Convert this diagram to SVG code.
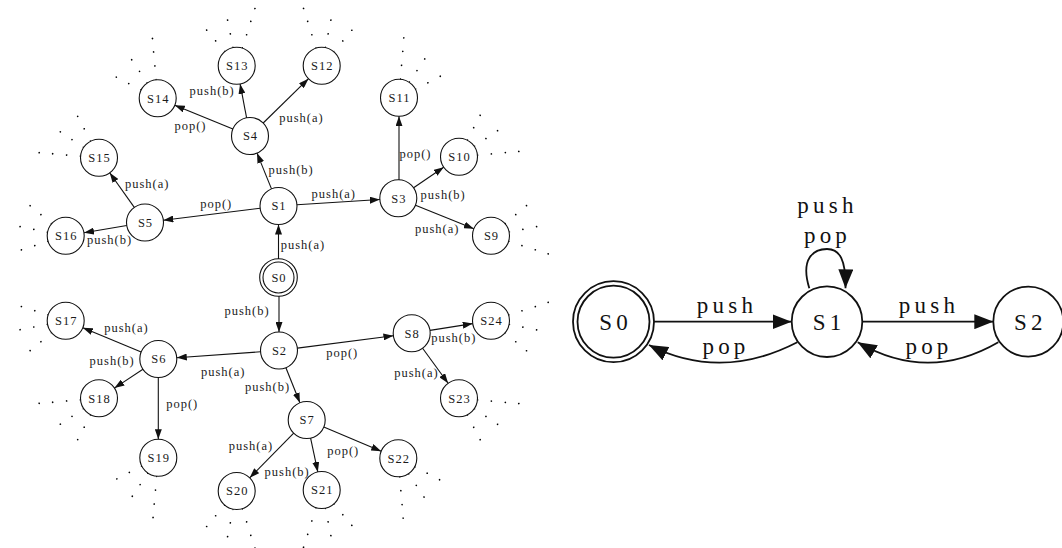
<svg xmlns="http://www.w3.org/2000/svg" xmlns:xlink="http://www.w3.org/1999/xlink" width="1062" height="548" viewBox="0 0 1062 548">
<style>
.n circle{fill:none;stroke:#111;stroke-width:1.1}
.t{font-family:"Liberation Serif","Times New Roman",serif;font-size:12.5px;letter-spacing:1px;fill:#1a1a1a;text-anchor:middle}
.e{stroke:#111;stroke-width:1.1;fill:none;marker-end:url(#a)}
.N circle{fill:none;stroke:#111;stroke-width:1.8}
.T{font-family:"Liberation Serif","Times New Roman",serif;font-size:23px;letter-spacing:4.2px;fill:#111;text-anchor:middle}
.E{stroke:#111;stroke-width:1.8;fill:none;marker-end:url(#A)}
.d circle{fill:#333}
</style>
<defs>
<marker id="a" markerUnits="userSpaceOnUse" viewBox="0 0 10 7" markerWidth="10" markerHeight="7" refX="10" refY="3.5" orient="auto"><path d="M0,0L10,3.5L0,7z" fill="#111"/></marker>
<marker id="A" markerUnits="userSpaceOnUse" viewBox="0 0 19 15" markerWidth="19" markerHeight="15" refX="19" refY="7.5" orient="auto"><path d="M0,0L19,7.5L0,15z" fill="#111"/></marker>
<g id="fc">
<circle cx="19" cy="0" r="0.6"/><circle cx="16.6" cy="9.2" r="0.6"/><circle cx="16.6" cy="-9.2" r="0.6"/>
<circle cx="32.5" cy="0" r="0.85"/><circle cx="46.5" cy="0" r="0.85"/>
<circle cx="28.4" cy="15.8" r="0.85"/><circle cx="40.7" cy="22.5" r="0.85"/>
<circle cx="28.4" cy="-15.8" r="0.85"/><circle cx="40.7" cy="-22.5" r="0.85"/>
</g>
<g id="fa"><use xlink:href="#fc"/><circle cx="52.5" cy="29.1" r="0.85"/></g>
<g id="fb"><use xlink:href="#fc"/><circle cx="52.5" cy="-29.1" r="0.85"/></g>
</defs>
<rect width="1062" height="548" fill="#fff"/>

<g id="continuations" class="d">
<use xlink:href="#fa" transform="translate(491,235.7) rotate(-11.3)"/>
<use xlink:href="#fa" transform="translate(459,156.7) rotate(-34)"/>
<use xlink:href="#fb" transform="translate(399,97.7) rotate(-56.4)"/>
<use xlink:href="#fb" transform="translate(321.7,65.7) rotate(-78.6)"/>
<use xlink:href="#fa" transform="translate(236.7,65.7) rotate(-101.3)"/>
<use xlink:href="#fa" transform="translate(157.7,98.3) rotate(-124)"/>
<use xlink:href="#fb" transform="translate(99,157.7) rotate(-146.2)"/>
<use xlink:href="#fc" transform="translate(65.7,235.7) rotate(-168.8)"/>
<use xlink:href="#fb" transform="translate(491,320.7) rotate(11.3)"/>
<use xlink:href="#fb" transform="translate(459,398.3) rotate(34)"/>
<use xlink:href="#fa" transform="translate(398.3,458.3) rotate(56.4)"/>
<use xlink:href="#fa" transform="translate(321.7,490) rotate(78.6)"/>
<use xlink:href="#fb" transform="translate(236.7,491) rotate(101.3)"/>
<use xlink:href="#fb" transform="translate(158.3,457.7) rotate(124)"/>
<use xlink:href="#fa" transform="translate(99,398.3) rotate(146.2)"/>
<use xlink:href="#fc" transform="translate(65.7,320.7) rotate(168.8)"/>
</g>

<g id="connectors">
<path class="e" d="M278.5,259V224.5"/>
<path class="e" d="M279,296V332"/>
<path class="e" d="M297,204.8L379.8,199.5"/>
<path class="e" d="M271.5,188.9L257,153.1"/>
<path class="e" d="M260.1,208.3L163.4,220.2"/>
<path class="e" d="M263.2,123L308.5,78.7"/>
<path class="e" d="M246.6,117.8L240.1,83.9"/>
<path class="e" d="M232.9,129L174.8,105.3"/>
<path class="e" d="M399,180V116.2"/>
<path class="e" d="M413.6,187.8L443.7,167.2"/>
<path class="e" d="M415.5,205.2L473.8,228.8"/>
<path class="e" d="M134.3,207.4L109.7,172.8"/>
<path class="e" d="M126.8,225.5L84,232.7"/>
<path class="e" d="M260.6,351.8L176.8,357.7"/>
<path class="e" d="M285.9,367.7L299.9,402.8"/>
<path class="e" d="M297.4,348.1L393.4,335.7"/>
<path class="e" d="M141.2,351.9L82.8,327.8"/>
<path class="e" d="M142.9,369.2L114.4,388.1"/>
<path class="e" d="M158.3,377.5V439.2"/>
<path class="e" d="M293.7,433.2L249.7,477.8"/>
<path class="e" d="M310.6,438.1L317.8,471.9"/>
<path class="e" d="M323.8,427.1L381.2,451.2"/>
<path class="e" d="M430,330.4L472.7,323.6"/>
<path class="e" d="M422.6,348.3L448.1,383.3"/>
<g class="t">
<text x="303" y="248.5">push(a)</text>
<text x="247" y="315.2">push(b)</text>
<text x="333.8" y="197.5">push(a)</text>
<text x="291.2" y="173.5">push(b)</text>
<text x="216.2" y="207.8">pop()</text>
<text x="301.5" y="121.8">push(a)</text>
<text x="212.2" y="95.2">push(b)</text>
<text x="190.5" y="129.5">pop()</text>
<text x="415.5" y="157.5">pop()</text>
<text x="443.2" y="198.5">push(b)</text>
<text x="437.2" y="232.8">push(a)</text>
<text x="147.2" y="187.5">push(a)</text>
<text x="109.5" y="243.5">push(b)</text>
<text x="223.2" y="375.8">push(a)</text>
<text x="267.5" y="390.5">push(b)</text>
<text x="342.2" y="356.8">pop()</text>
<text x="126.5" y="331.8">push(a)</text>
<text x="112.2" y="365.2">push(b)</text>
<text x="182.2" y="407.5">pop()</text>
<text x="251" y="449.5">push(a)</text>
<text x="287.2" y="476.2">push(b)</text>
<text x="343.2" y="454.5">pop()</text>
<text x="453.8" y="341.8">push(b)</text>
<text x="416.5" y="376.8">push(a)</text>
</g>
<path class="E" d="M654,321.7H791.5"/>
<path class="E" d="M862.3,321.7H993.3"/>
<path class="E" d="M797.3,342.3Q720.8,381.7 649,345"/>
<path class="E" d="M998.3,342.3Q928,383.1 857.7,342.3"/>
<path class="E" d="M809.3,288.3C800,258 814,249 827,249C840,249 846,260 845.5,288.3"/>
<g class="T">
<text x="727" y="312.7">push</text>
<text x="726" y="354">pop</text>
<text x="929" y="312.7">push</text>
<text x="929" y="354">pop</text>
<text x="827.5" y="212.5">push</text>
<text x="827.5" y="242.5">pop</text>
</g>
</g>

<g id="S0" class="n"><circle cx="278.5" cy="277.5" r="18.8"/><circle cx="278.5" cy="277.5" r="15.5"/><text class="t" x="279" y="281.8">S0</text></g>
<g id="S1" class="n"><circle cx="278.5" cy="206" r="18.5"/><text class="t" x="279" y="210.3">S1</text></g>
<g id="S2" class="n"><circle cx="279" cy="350.5" r="18.5"/><text class="t" x="279.5" y="354.8">S2</text></g>
<g id="S3" class="n"><circle cx="398.3" cy="198.3" r="18.5"/><text class="t" x="398.8" y="202.6">S3</text></g>
<g id="S4" class="n"><circle cx="250" cy="136" r="18.5"/><text class="t" x="250.5" y="140.3">S4</text></g>
<g id="S5" class="n"><circle cx="145" cy="222.5" r="18.5"/><text class="t" x="145.5" y="226.8">S5</text></g>
<g id="S6" class="n"><circle cx="158.3" cy="359" r="18.5"/><text class="t" x="158.8" y="363.3">S6</text></g>
<g id="S7" class="n"><circle cx="306.7" cy="420" r="18.5"/><text class="t" x="307.2" y="424.3">S7</text></g>
<g id="S8" class="n"><circle cx="411.7" cy="333.3" r="18.5"/><text class="t" x="412.2" y="337.6">S8</text></g>
<g id="S9" class="n"><circle cx="491" cy="235.7" r="18.5"/><text class="t" x="491.5" y="240">S9</text></g>
<g id="S10" class="n"><circle cx="459" cy="156.7" r="18.5"/><text class="t" x="459.5" y="161">S10</text></g>
<g id="S11" class="n"><circle cx="399" cy="97.7" r="18.5"/><text class="t" x="399.5" y="102">S11</text></g>
<g id="S12" class="n"><circle cx="321.7" cy="65.7" r="18.5"/><text class="t" x="322.2" y="70">S12</text></g>
<g id="S13" class="n"><circle cx="236.7" cy="65.7" r="18.5"/><text class="t" x="237.2" y="70">S13</text></g>
<g id="S14" class="n"><circle cx="157.7" cy="98.3" r="18.5"/><text class="t" x="158.2" y="102.6">S14</text></g>
<g id="S15" class="n"><circle cx="99" cy="157.7" r="18.5"/><text class="t" x="99.5" y="162">S15</text></g>
<g id="S16" class="n"><circle cx="65.7" cy="235.7" r="18.5"/><text class="t" x="66.2" y="240">S16</text></g>
<g id="S17" class="n"><circle cx="65.7" cy="320.7" r="18.5"/><text class="t" x="66.2" y="325">S17</text></g>
<g id="S18" class="n"><circle cx="99" cy="398.3" r="18.5"/><text class="t" x="99.5" y="402.6">S18</text></g>
<g id="S19" class="n"><circle cx="158.3" cy="457.7" r="18.5"/><text class="t" x="158.8" y="462">S19</text></g>
<g id="S20" class="n"><circle cx="236.7" cy="491" r="18.5"/><text class="t" x="237.2" y="495.3">S20</text></g>
<g id="S21" class="n"><circle cx="321.7" cy="490" r="18.5"/><text class="t" x="322.2" y="494.3">S21</text></g>
<g id="S22" class="n"><circle cx="398.3" cy="458.3" r="18.5"/><text class="t" x="398.8" y="462.6">S22</text></g>
<g id="S23" class="n"><circle cx="459" cy="398.3" r="18.5"/><text class="t" x="459.5" y="402.6">S23</text></g>
<g id="S24" class="n"><circle cx="491" cy="320.7" r="18.5"/><text class="t" x="491.5" y="325">S24</text></g>

<g id="R_S0" class="N"><circle cx="613.5" cy="321.7" r="40.5"/><circle cx="613.5" cy="321.7" r="36"/><text class="T" x="615.6" y="329.5">S0</text></g>
<g id="R_S1" class="N"><circle cx="827" cy="321.7" r="35.3"/><text class="T" x="829.1" y="329.5">S1</text></g>
<g id="R_S2" class="N"><circle cx="1028.3" cy="321.7" r="35"/><text class="T" x="1030.4" y="329.5">S2</text></g>
</svg>
